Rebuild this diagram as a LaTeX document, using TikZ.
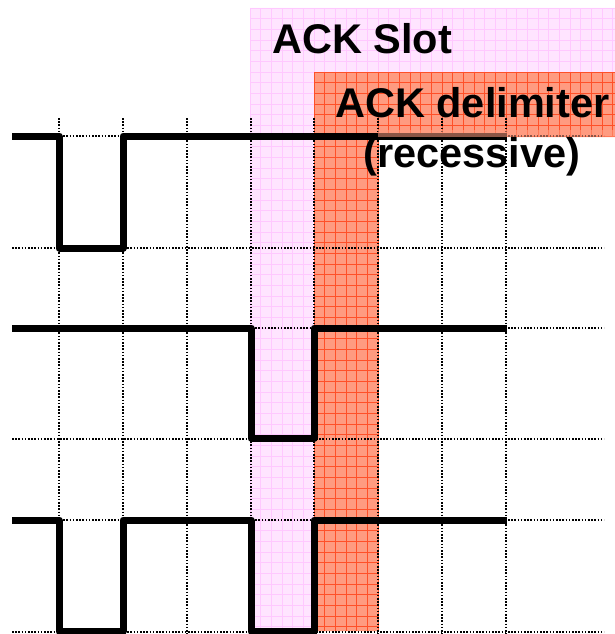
\documentclass[tikz,border=0pt]{standalone}
\usepackage{fontspec}
\setmainfont{Liberation Sans}
\begin{document}
\definecolor{slotfill}{RGB}{255,228,255}
\definecolor{slotline}{RGB}{255,200,255}
\definecolor{delimfill}{RGB}{255,155,128}
\definecolor{delimline}{RGB}{255,80,40}
\begin{tikzpicture}[x=1pt,y=-1pt,
  signal/.style={line width=7pt, line join=round},
  gridline/.style={line width=1.5pt, dash pattern=on 1.5pt off 1.7pt},
  slotgrid/.style={draw=slotline, line width=0.5pt, step=10.667pt},
  delimgrid/.style={draw=delimline, line width=0.8pt, step=10.667pt},
  caption/.style={font=\bfseries\fontsize{41.5}{48}\selectfont, anchor=base west, inner sep=0pt},
]
\useasboundingbox (0,0) rectangle (615,634);

% ACK slot band: header strip and bit column
\begin{scope}[shift={(250,8)}]
  \fill[slotfill] (0,0) -- (365,0) -- (365,64) -- (64,64) -- (64,620) -- (0,620) -- cycle;
  \draw[slotgrid] (0,0) grid (365,64);
  \draw[slotgrid] (0,64) grid (64,620);
\end{scope}

% ACK delimiter band: header strip and bit column
\begin{scope}[shift={(314,72)}]
  \fill[delimfill] (0,0) -- (301,0) -- (301,65) -- (64,65) -- (64,559) -- (0,559) -- cycle;
  \draw[delimgrid] (0,0) grid (301,65);
  \draw[delimgrid] (0,65) grid (64,559);
\end{scope}

% dotted bit-time grid
\foreach \x in {59,123,187,251,314,378,442,506}
  \draw[gridline] (\x,118) -- (\x,634);
\foreach \y in {136,248,328,439,520,632}
  \draw[gridline] (12,\y) -- (604,\y);

% bus waveforms
\draw[signal] (12,136) -- (59,136) -- (59,248) -- (123,248) -- (123,136) -- (507,136);
\draw[signal] (12,328) -- (251,328) -- (251,438) -- (314,438) -- (314,328) -- (507,328);
\draw[signal] (12,520) -- (59,520) -- (59,631) -- (123,631) -- (123,520) -- (251,520)
  -- (251,631) -- (314,631) -- (314,520) -- (507,520);

% delimiter header overlapping the top line
\fill[delimfill, opacity=0.55] (378,130) rectangle (615,137);

% captions
\node[caption] (slot) at (272,53) {ACK Slot};
\node[caption] (delim) at (335,117) {ACK delimiter};
\node[caption] (rec) at (363,167) {(recessive)};
\end{tikzpicture}
\end{document}
